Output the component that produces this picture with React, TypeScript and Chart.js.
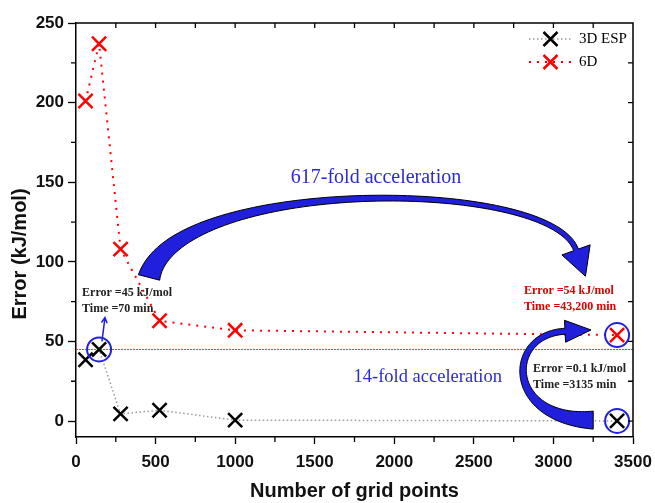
import React, { useEffect, useRef } from "react";
import { Chart, registerables } from "chart.js";

Chart.register(...registerables);

// ---------- data ----------
const gridPoints = [60, 145, 280, 525, 1000, 3400];
const esp3dError = [38.5, 45, 4.5, 6.8, 0.6, 0.1];
const sixDError = [201, 237, 108, 63, 57, 54];
const highlightX = [145, 3400, 3400];
const highlightY = [45, 54, 0.1];
const referenceError = 45;
const xTickValues = [0, 500, 1000, 1500, 2000, 2500, 3000, 3500];
const yTickValues = [0, 50, 100, 150, 200, 250];
const seriesLabels = ["3D ESP", "6D"];
const xTitle = "Number of grid points";
const yTitle = "Error (kJ/mol)";
const bigArrowText = "617-fold acceleration";
const smallArrowText = "14-fold acceleration";
const noteLowGrid = ["Error =45 kJ/mol", "Time =70 min"];
const note6D = ["Error =54 kJ/mol", "Time =43,200 min"];
const note3D = ["Error =0.1 kJ/mol", "Time =3135 min"];

// annotation anchors in data units
const bigArrowPath = [[459, 90.2], [622, 153.4], [2978, 153.4], [3142, 107.5]];
const cArrowPath = [[3250, 0.6], [2696, 0.6], [2696, 54.5], [3073, 56.4]];
const smallArrowPath = [[163, 50], [182, 65]];
const bigTextAt = [1885, 152.8];
const smallTextAt = [2210, 27.6];
const noteLowAt = [38, 80.8];
const note6DAt = [2815, 82];
const note3DAt = [2872, 32.6];

const BLUE = "#1f1fdc";
const SERIF = "'Liberation Serif', serif";
const SANS = "'Liberation Sans', Arial, sans-serif";

function drawCurvedArrow(ctx: CanvasRenderingContext2D, P: number[][], w0: number, w1: number, headLen: number, headW: number) {
  const N = 80;
  const bez = (t: number) => {
    const u = 1 - t;
    return [0, 1].map((k) => u * u * u * P[0][k] + 3 * u * u * t * P[1][k] + 3 * u * t * t * P[2][k] + t * t * t * P[3][k]);
  };
  const der = (t: number) => {
    const u = 1 - t;
    return [0, 1].map((k) => 3 * u * u * (P[1][k] - P[0][k]) + 6 * u * t * (P[2][k] - P[1][k]) + 3 * t * t * (P[3][k] - P[2][k]));
  };
  const L: number[][] = [];
  const R: number[][] = [];
  for (let i = 0; i <= N; i++) {
    const t = i / N;
    const p = bez(t);
    const d = der(t);
    const len = Math.hypot(d[0], d[1]) || 1;
    const n = [-d[1] / len, d[0] / len];
    const w = w1 + (w0 - w1) * Math.pow(1 - t, 4);
    L.push([p[0] + (n[0] * w) / 2, p[1] + (n[1] * w) / 2]);
    R.push([p[0] - (n[0] * w) / 2, p[1] - (n[1] * w) / 2]);
  }
  const e = bez(1);
  const d = der(1);
  const len = Math.hypot(d[0], d[1]) || 1;
  const T = [d[0] / len, d[1] / len];
  const n = [-T[1], T[0]];
  ctx.beginPath();
  ctx.moveTo(L[0][0], L[0][1]);
  for (const p of L) ctx.lineTo(p[0], p[1]);
  ctx.lineTo(e[0] + (n[0] * headW) / 2, e[1] + (n[1] * headW) / 2);
  ctx.lineTo(e[0] + T[0] * headLen, e[1] + T[1] * headLen);
  ctx.lineTo(e[0] - (n[0] * headW) / 2, e[1] - (n[1] * headW) / 2);
  for (let i = R.length - 1; i >= 0; i--) ctx.lineTo(R[i][0], R[i][1]);
  ctx.closePath();
  ctx.fillStyle = BLUE;
  ctx.fill();
  ctx.strokeStyle = "#000";
  ctx.lineWidth = 1;
  ctx.stroke();
}

const annotationPlugin = {
  id: "annotations",
  afterDatasetsDraw(chart: any) {
    const { ctx, chartArea: a, scales } = chart;
    const xs = scales.x;
    const ys = scales.y;
    const px = (p: number[]) => [xs.getPixelForValue(p[0]), ys.getPixelForValue(p[1])];
    ctx.save();

    // frame top / right
    ctx.strokeStyle = "#000";
    ctx.lineWidth = 1.5;
    ctx.beginPath();
    ctx.moveTo(a.left, a.top);
    ctx.lineTo(a.right, a.top);
    ctx.lineTo(a.right, a.bottom);
    ctx.stroke();

    // minor + mirrored ticks
    ctx.lineWidth = 1.3;
    ctx.beginPath();
    for (let v = 250; v < 3500; v += 250) {
      const X = xs.getPixelForValue(v);
      if (v % 500 !== 0) {
        ctx.moveTo(X, a.bottom);
        ctx.lineTo(X, a.bottom + 5);
      }
      ctx.moveTo(X, a.top);
      ctx.lineTo(X, a.top + 5);
    }
    for (let v = 0; v < 250; v += 25) {
      const Y = ys.getPixelForValue(v);
      if (v % 50 !== 0) {
        ctx.moveTo(a.left, Y);
        ctx.lineTo(a.left - 5, Y);
      }
      ctx.moveTo(a.right, Y);
      ctx.lineTo(a.right - 5, Y);
    }
    ctx.stroke();

    // y-axis title
    ctx.save();
    ctx.translate(20, (a.top + a.bottom) / 2 + 24);
    ctx.rotate(-Math.PI / 2);
    ctx.textAlign = "center";
    ctx.textBaseline = "middle";
    ctx.fillStyle = "#111";
    ctx.font = `bold 20px ${SANS}`;
    ctx.fillText(yTitle, 0, 0);
    ctx.restore();

    // big arrow
    drawCurvedArrow(ctx, bigArrowPath.map(px), 22, 5, 28, 30);
    // C arrow
    drawCurvedArrow(ctx, cArrowPath.map(px), 18, 6, 26, 22);

    // small arrow
    const s0 = px(smallArrowPath[0]);
    const s1 = px(smallArrowPath[1]);
    ctx.strokeStyle = BLUE;
    ctx.lineWidth = 1.5;
    ctx.beginPath();
    ctx.moveTo(s0[0], s0[1]);
    ctx.lineTo(s1[0], s1[1]);
    const ang = Math.atan2(s1[1] - s0[1], s1[0] - s0[0]);
    ctx.moveTo(s1[0] - 6 * Math.cos(ang - 0.5), s1[1] - 6 * Math.sin(ang - 0.5));
    ctx.lineTo(s1[0], s1[1]);
    ctx.lineTo(s1[0] - 6 * Math.cos(ang + 0.5), s1[1] - 6 * Math.sin(ang + 0.5));
    ctx.stroke();

    // texts
    ctx.textBaseline = "middle";
    ctx.textAlign = "center";
    ctx.fillStyle = "#2b2bd6";
    ctx.font = `20px ${SERIF}`;
    let p = px(bigTextAt);
    ctx.fillText(bigArrowText, p[0], p[1]);
    ctx.font = `18.5px ${SERIF}`;
    p = px(smallTextAt);
    ctx.fillText(smallArrowText, p[0], p[1]);

    ctx.textAlign = "left";
    ctx.font = `bold 12px ${SERIF}`;
    const notes: [string[], number[], string][] = [
      [noteLowGrid, noteLowAt, "#222"],
      [note6D, note6DAt, "#e00000"],
      [note3D, note3DAt, "#222"],
    ];
    for (const [lines, at, col] of notes) {
      const q = px(at);
      ctx.fillStyle = col;
      lines.forEach((ln, i) => ctx.fillText(ln, q[0], q[1] + i * 16));
    }

    // legend
    const legendItems = [
      { label: seriesLabels[0], line: "#999", dash: [1.5, 2.5], lw: 1.5, mark: "#000" },
      { label: seriesLabels[1], line: "#ff0000", dash: [2, 6], lw: 2, mark: "#ff0000" },
    ];
    legendItems.forEach((it, i) => {
      const y = a.top + 16 + i * 23;
      const x0 = a.right - 104;
      const x1 = a.right - 61;
      ctx.strokeStyle = it.line;
      ctx.lineWidth = it.lw;
      ctx.setLineDash(it.dash);
      ctx.beginPath();
      ctx.moveTo(x0, y);
      ctx.lineTo(x1, y);
      ctx.stroke();
      ctx.setLineDash([]);
      const cx = (x0 + x1) / 2;
      ctx.strokeStyle = it.mark;
      ctx.lineWidth = 2.5;
      ctx.beginPath();
      ctx.moveTo(cx - 7, y - 7);
      ctx.lineTo(cx + 7, y + 7);
      ctx.moveTo(cx + 7, y - 7);
      ctx.lineTo(cx - 7, y + 7);
      ctx.stroke();
      ctx.fillStyle = "#000";
      ctx.font = `15px ${SERIF}`;
      ctx.fillText(it.label, a.right - 54, y);
    });

    ctx.restore();
  },
};

export default function App() {
  const ref = useRef<HTMLCanvasElement | null>(null);
  useEffect(() => {
    if (!ref.current) return;
    const pts = (ys: number[]) => gridPoints.map((x, i) => ({ x, y: ys[i] }));
    const tickFont = { family: SANS, weight: "bold", size: 17 };
    const chart = new Chart(ref.current, {
      type: "scatter",
      data: {
        datasets: [
          {
            label: "highlight",
            data: highlightX.map((x, i) => ({ x, y: highlightY[i] })),
            pointStyle: "circle",
            pointRadius: 12,
            pointBorderWidth: 2,
            pointBorderColor: "#2020e0",
            pointBackgroundColor: "rgba(0,0,0,0)",
            showLine: false,
            order: 0,
          },
          {
            label: seriesLabels[0],
            data: pts(esp3dError),
            showLine: true,
            borderColor: "#999",
            borderWidth: 1.5,
            borderDash: [1.5, 2.5],
            pointStyle: "crossRot",
            pointRadius: 10,
            pointBorderWidth: 2.5,
            pointBorderColor: "#000",
            order: 1,
          },
          {
            label: seriesLabels[1],
            data: pts(sixDError),
            showLine: true,
            borderColor: "#ff0000",
            borderWidth: 2,
            borderDash: [2, 6],
            pointStyle: "crossRot",
            pointRadius: 10,
            pointBorderWidth: 2.5,
            pointBorderColor: "#ff0000",
            order: 2,
          },
          {
            label: "reference",
            data: [
              { x: xTickValues[0], y: referenceError },
              { x: xTickValues[xTickValues.length - 1], y: referenceError },
            ],
            showLine: true,
            borderColor: "#ff3030",
            borderWidth: 1,
            borderDash: [2, 1],
            pointRadius: 0,
            order: 3,
          },
        ],
      },
      options: {
        animation: false,
        responsive: false,
        devicePixelRatio: 1,
        layout: { padding: { left: 0, top: 23, right: 22, bottom: 0 } },
        plugins: { legend: { display: false }, tooltip: { enabled: false } },
        scales: {
          x: {
            type: "linear",
            min: 0,
            max: 3500,
            afterBuildTicks: (s: any) => {
              s.ticks = xTickValues.map((v) => ({ value: v }));
            },
            afterFit: (s: any) => {
              s.height = 66;
              s.paddingLeft = 0;
              s.paddingRight = 0;
            },
            grid: { drawOnChartArea: false, drawTicks: true, tickLength: 7, tickColor: "#000", tickWidth: 1.3 },
            border: { display: true, color: "#000", width: 1.5 },
            ticks: { color: "#111", padding: 8, maxRotation: 0, font: tickFont, callback: (v: any) => String(v) },
            title: { display: true, text: xTitle, color: "#111", padding: { top: 0, bottom: 0 }, font: { family: SANS, weight: "bold", size: 20 } },
          },
          y: {
            type: "linear",
            min: -10,
            max: 250,
            afterBuildTicks: (s: any) => {
              s.ticks = yTickValues.map((v) => ({ value: v }));
            },
            afterFit: (s: any) => {
              s.width = 76;
              s.paddingTop = 0;
              s.paddingBottom = 0;
            },
            grid: { drawOnChartArea: false, drawTicks: true, tickLength: 8, tickColor: "#000", tickWidth: 1.3 },
            border: { display: true, color: "#000", width: 1.5 },
            ticks: { color: "#111", padding: 4, font: tickFont, callback: (v: any) => String(v) },
            title: { display: false },
          },
        },
      },
      plugins: [annotationPlugin],
    } as any);
    return () => chart.destroy();
  }, []);
  return (
    <div style={{ position: "fixed", left: 0, top: 0, width: 655, height: 503, background: "#fff" }}>
      <canvas ref={ref} width={655} height={503} style={{ display: "block" }} />
    </div>
  );
}
